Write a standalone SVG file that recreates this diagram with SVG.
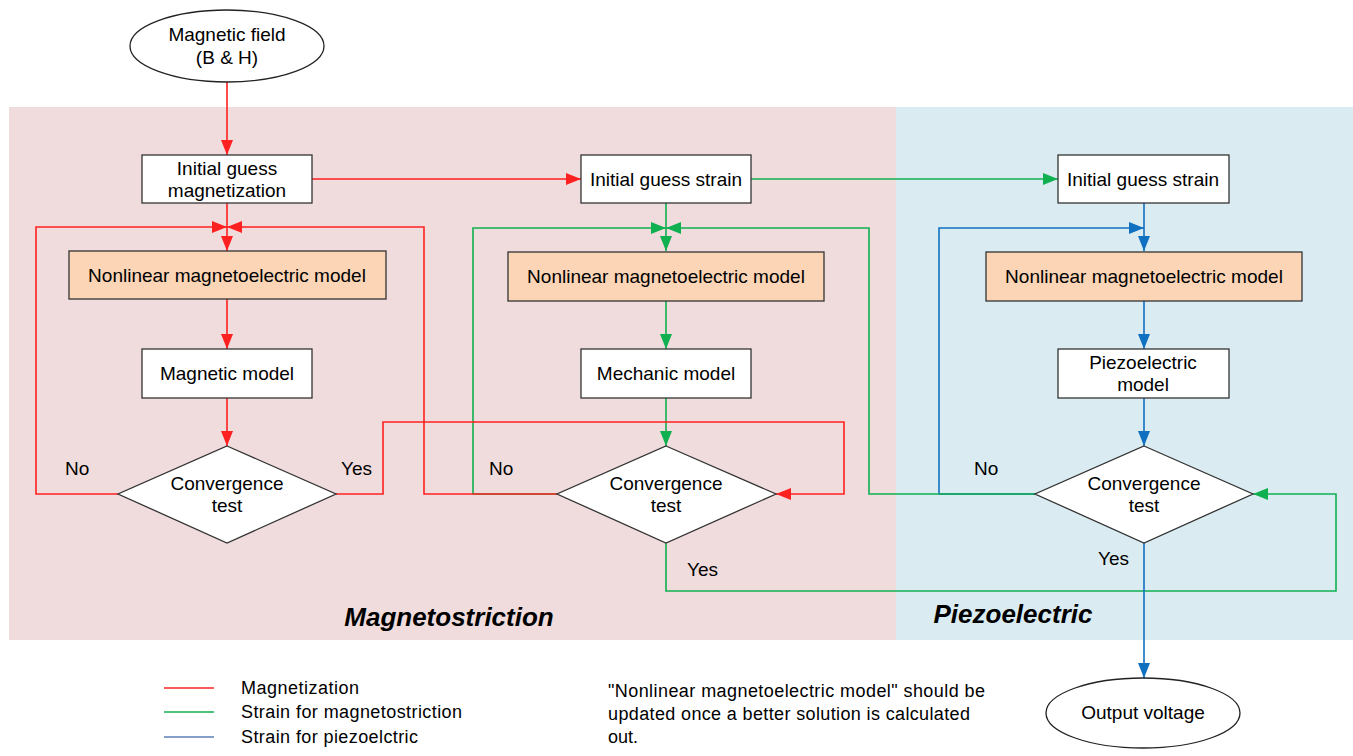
<svg xmlns="http://www.w3.org/2000/svg" width="1353" height="756" viewBox="0 0 1353 756">
<defs>
<style>
text{font-family:"Liberation Sans",Arial,sans-serif;fill:#000}
.n{font-size:19px;text-anchor:middle}
.l{font-size:19px}
.lg{font-size:18px}
.t{font-size:26px;font-weight:bold;font-style:italic;text-anchor:middle}
.box{fill:#fff;stroke:#333;stroke-width:1.3}
.nl{fill:#fbd5b5;stroke:#333;stroke-width:1.3}
.r{stroke:#ff2020;stroke-width:1.6;fill:none}
.g{stroke:#10b050;stroke-width:1.6;fill:none}
.b{stroke:#1070c0;stroke-width:1.6;fill:none}
</style>
<marker id="ar" markerUnits="userSpaceOnUse" markerWidth="16" markerHeight="12" refX="15" refY="6" orient="auto"><path d="M0,0 L15,6 L0,12 z" fill="#ff2020"/></marker>
<marker id="ag" markerUnits="userSpaceOnUse" markerWidth="16" markerHeight="12" refX="15" refY="6" orient="auto"><path d="M0,0 L15,6 L0,12 z" fill="#10b050"/></marker>
<marker id="ab" markerUnits="userSpaceOnUse" markerWidth="16" markerHeight="12" refX="15" refY="6" orient="auto"><path d="M0,0 L15,6 L0,12 z" fill="#1070c0"/></marker>
</defs>
<rect x="0" y="0" width="1353" height="756" fill="#fff"/>
<g id="bg">
<rect x="9" y="107" width="887" height="533" fill="#f0dcdc"/>
<rect x="896" y="107" width="457" height="533" fill="#daecf2"/>
<text class="t" x="449" y="626">Magnetostriction</text>
<text class="t" x="1013" y="623">Piezoelectric</text>
</g>
<g id="connectors">
<path class="g" d="M751,179 H1058" marker-end="url(#ag)"/>
<path class="g" d="M666,203 V251" marker-end="url(#ag)"/>
<path class="g" d="M557,494 H473 V228 H666" marker-end="url(#ag)"/>
<path class="g" d="M666,301 V349" marker-end="url(#ag)"/>
<path class="g" d="M666,398 V446" marker-end="url(#ag)"/>
<path class="g" d="M666,543 V591 H1336 V494 H1253" marker-end="url(#ag)"/>
<path class="b" d="M1144,203 V251" marker-end="url(#ab)"/>
<path class="b" d="M1035,494 H939 V228 H1144" marker-end="url(#ab)"/>
<path class="b" d="M1144,301 V349" marker-end="url(#ab)"/>
<path class="b" d="M1144,398 V446" marker-end="url(#ab)"/>
<path class="b" d="M1144,543 V678" marker-end="url(#ab)"/>
<path class="g" d="M1035,494 H869 V228 H666" marker-end="url(#ag)"/>
<path class="r" d="M227,82 V155" marker-end="url(#ar)"/>
<path class="r" d="M312,179 H581" marker-end="url(#ar)"/>
<path class="r" d="M227,203 V251" marker-end="url(#ar)"/>
<path class="r" d="M118,494 H36 V227 H227" marker-end="url(#ar)"/>
<path class="r" d="M557,494 H424 V227 H227" marker-end="url(#ar)"/>
<path class="r" d="M227,299 V349" marker-end="url(#ar)"/>
<path class="r" d="M227,398 V446" marker-end="url(#ar)"/>
<path class="r" d="M336,494 H383 V422 H844 V494 H776" marker-end="url(#ar)"/>
</g>
<g id="start"><ellipse cx="227" cy="46" rx="97" ry="36" fill="#fff" stroke="#222" stroke-width="1.3"/><text class="n" x="227" y="41">Magnetic field</text><text class="n" x="227" y="64">(B &amp; H)</text></g>
<g id="init-mag"><rect class="box" x="142" y="155" width="170" height="48"/><text class="n" x="227" y="175">Initial guess</text><text class="n" x="227" y="197">magnetization</text></g>
<g id="init-strain-1"><rect class="box" x="581" y="155" width="170" height="48"/><text class="n" x="666" y="186">Initial guess strain</text></g>
<g id="init-strain-2"><rect class="box" x="1058" y="155" width="171" height="48"/><text class="n" x="1143" y="186">Initial guess strain</text></g>
<g id="nl-1"><rect class="nl" x="69" y="251" width="317" height="48"/><text class="n" x="227" y="282">Nonlinear magnetoelectric model</text></g>
<g id="nl-2"><rect class="nl" x="508" y="252" width="316" height="49"/><text class="n" x="666" y="283">Nonlinear magnetoelectric model</text></g>
<g id="nl-3"><rect class="nl" x="986" y="252" width="316" height="49"/><text class="n" x="1144" y="283">Nonlinear magnetoelectric model</text></g>
<g id="magnetic-model"><rect class="box" x="142" y="349" width="170" height="49"/><text class="n" x="227" y="380">Magnetic model</text></g>
<g id="mechanic-model"><rect class="box" x="581" y="349" width="170" height="49"/><text class="n" x="666" y="380">Mechanic model</text></g>
<g id="piezo-model"><rect class="box" x="1058" y="349" width="171" height="49"/><text class="n" x="1143" y="369">Piezoelectric</text><text class="n" x="1143" y="391">model</text></g>
<g id="conv-1"><polygon class="box" points="227,446 336,494 227,543 118,494"/><text class="n" x="227" y="490">Convergence</text><text class="n" x="227" y="512">test</text></g>
<g id="conv-2"><polygon class="box" points="666,446 776,494 666,543 557,494"/><text class="n" x="666" y="490">Convergence</text><text class="n" x="666" y="512">test</text></g>
<g id="conv-3"><polygon class="box" points="1144,446 1253,494 1144,543 1035,494"/><text class="n" x="1144" y="490">Convergence</text><text class="n" x="1144" y="512">test</text></g>
<g id="end"><ellipse cx="1143" cy="713" rx="97" ry="35" fill="#fff" stroke="#222" stroke-width="1.3"/><text class="n" x="1143" y="719">Output voltage</text></g>
<g id="labels">
<text class="l" x="65" y="475">No</text>
<text class="l" x="341" y="475">Yes</text>
<text class="l" x="489" y="475">No</text>
<text class="l" x="687" y="576">Yes</text>
<text class="l" x="974" y="475">No</text>
<text class="l" x="1098" y="565">Yes</text>
</g>
<g id="legend">
<line x1="164" y1="688" x2="214" y2="688" stroke="#ff2020" stroke-width="1.6"/>
<line x1="164" y1="712" x2="214" y2="712" stroke="#10b050" stroke-width="1.6"/>
<line x1="164" y1="737" x2="214" y2="737" stroke="#5b80b8" stroke-width="1.6"/>
<text class="lg" x="241" y="694" textLength="118">Magnetization</text>
<text class="lg" x="241" y="718" textLength="221">Strain for magnetostriction</text>
<text class="lg" x="241" y="743" textLength="177">Strain for piezoelctric</text>
</g>
<g id="note">
<text class="lg" x="608" y="697" textLength="377">"Nonlinear magnetoelectric model" should be</text>
<text class="lg" x="608" y="720" textLength="362">updated once a better solution is calculated</text>
<text class="lg" x="608" y="743">out.</text>
</g>
</svg>
